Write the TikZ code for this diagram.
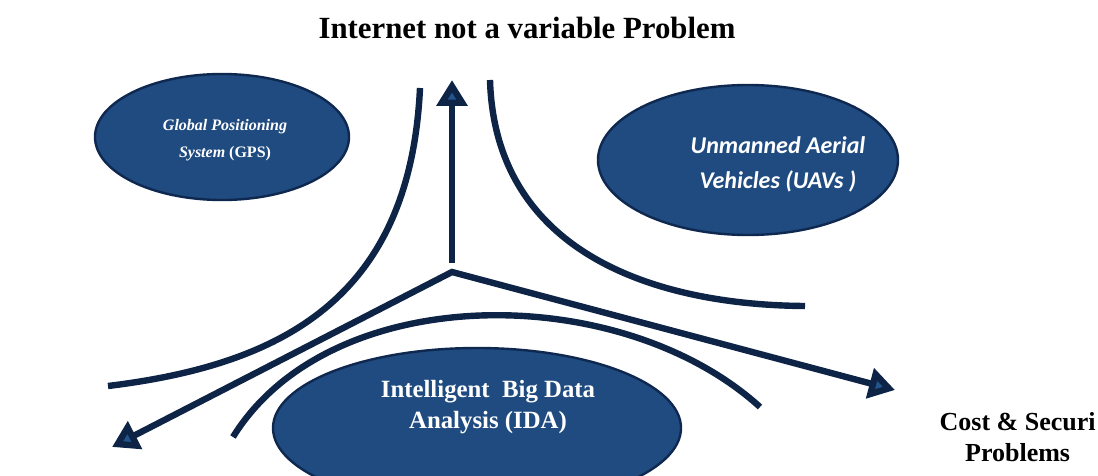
\documentclass[tikz,border=0pt]{standalone}
\usepackage{fontspec}
\setmainfont{Liberation Serif}
\newfontfamily\calibri{Carlito}
\usetikzlibrary{arrows.meta, positioning, shapes.geometric}
\definecolor{navyline}{HTML}{0E2447}
\definecolor{bubblefill}{HTML}{1F4B80}
\definecolor{bubbleedge}{HTML}{0F2850}
\definecolor{tipfill}{HTML}{24548C}

\tikzset{
  bubble/.style={ellipse, fill=bubblefill, draw=bubbleedge, line width=1.2pt, inner sep=0pt},
  bubbletext/.style={text=white, align=center},
  flow/.style={draw=navyline, line width=3.2pt},
}

\begin{document}
\begin{tikzpicture}[x=0.5pt,y=-0.5pt,>={Triangle[length=13pt,width=15pt,fill=tipfill]}]
        \useasboundingbox (0,0) rectangle (1098,476);
        \clip (0,0) rectangle (1098,476);
        % labels outside the bubbles
        \node[font=\bfseries\fontsize{15.4}{18}\selectfont] (title) at (527,28) {Internet not a variable Problem};
        \node[font=\bfseries\fontsize{13}{15.5}\selectfont, align=center, anchor=north east, inner sep=0pt] (cost) at (1096,412) {Cost \& Securi\\Problems};
        % bubbles
        \node[bubble, minimum width=127pt, minimum height=63pt] (gps) at (222,137) {};
        \node[bubble, minimum width=150pt, minimum height=75pt] (uav) at (748,160) {};
        \node[bubble, minimum width=204pt, minimum height=80pt] (ida) at (477,428) {};
        \node[bubbletext, font=\bfseries\fontsize{8}{13.5}\selectfont] (gpstext) at (225,140) {\textit{Global Positioning}\\\textit{System} (GPS)};
        \node[bubbletext, font=\calibri\bfseries\itshape\fontsize{12}{17.5}\selectfont] (uavtext) at (778,164) {Unmanned Aerial\\Vehicles (UAVs )};
        \node[bubbletext, font=\bfseries\fontsize{12.4}{15.5}\selectfont] (idatext) at (488,407) {Intelligent~ Big Data\\Analysis (IDA)};
        % arrows from the hub
        \coordinate (hub) at (452,272);
        \coordinate (hubtop) at (452,263);
        \coordinate (up) at (452,80);
        \coordinate (left) at (112,447);
        \coordinate (right) at (895,390);
        \draw[flow,->] (hubtop) -- (up);
        \draw[flow,<->] (left) -- (hub) -- (right);
        % curves
        \draw[flow] (420,88) .. controls (410,300) and (280,365) .. (108,386);
        \draw[flow] (490,80) .. controls (495,250) and (650,305) .. (805,306);
        \draw[flow] (233,437) .. controls (330,280) and (620,280) .. (760,407);
    \end{tikzpicture}
\end{document}
